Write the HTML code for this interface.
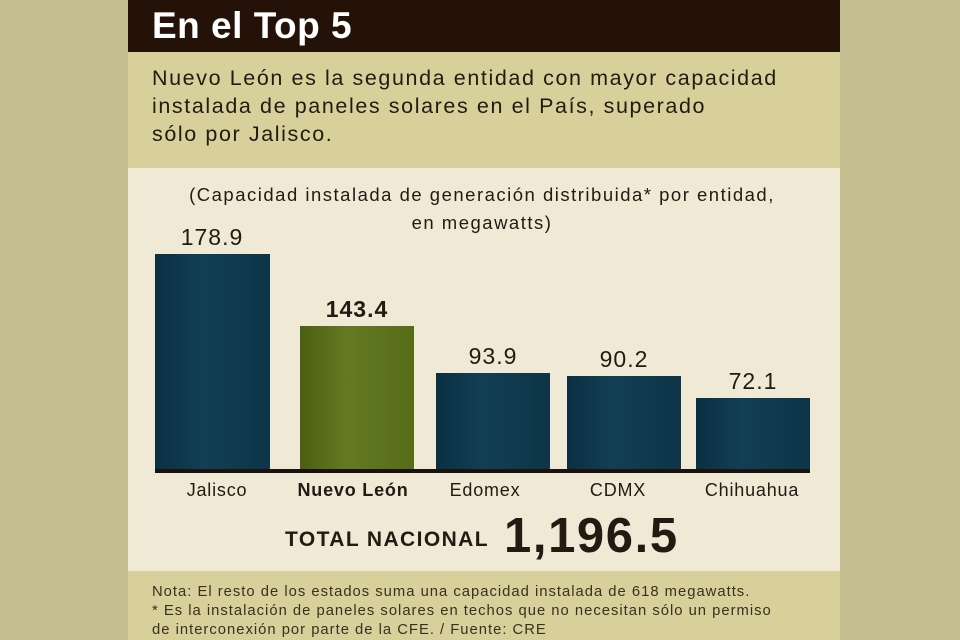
<!DOCTYPE html>
<html><head><meta charset="utf-8"><style>
*{margin:0;padding:0;box-sizing:border-box}
body{width:960px;height:640px;background:#c5be90;font-family:"Liberation Sans",sans-serif;position:relative;overflow:hidden;color:#231a12}
.p{position:absolute;left:128px;width:712px}
.t{position:absolute;white-space:nowrap}
.bar{position:absolute;background:linear-gradient(90deg,#0a2f42,#123f55 40%,#0d3447);}
.nl{background:linear-gradient(90deg,#4a5e12,#637a22 40%,#566c18)}
.lab{position:absolute;top:480px;font-size:18px;text-align:center;width:160px;letter-spacing:0.8px}
.val{position:absolute;font-size:23px;text-align:center;width:140px;letter-spacing:1px}
</style></head><body>
<div class="p" style="top:0;height:52px;background:#241208"></div>
<div class="p" style="top:52px;height:116px;background:#d7d09b"></div>
<div class="p" style="top:168px;height:403px;background:#efe9d5"></div>
<div class="p" style="top:571px;height:69px;background:#d7d09b"></div>
<div class="t" style="left:152px;top:5px;font-size:37px;font-weight:bold;color:#fff;letter-spacing:0.5px">En el Top 5</div>
<div class="t" style="left:152px;top:64px;font-size:21.5px;line-height:28px;letter-spacing:1.6px">Nuevo León es la segunda entidad con mayor capacidad<br>instalada de paneles solares en el País, superado<br>sólo por Jalisco.</div>
<div class="t" style="left:0;width:960px;top:181px;font-size:18.5px;line-height:28px;text-align:center;padding-left:4px;letter-spacing:1.5px">(Capacidad instalada de generación distribuida* por entidad,<br>en megawatts)</div>
<div class="bar" style="left:155px;top:254px;width:115px;height:216px"></div>
<div class="bar nl" style="left:300px;top:326px;width:114px;height:144px"></div>
<div class="bar" style="left:436px;top:373px;width:114px;height:97px"></div>
<div class="bar" style="left:567px;top:376px;width:114px;height:94px"></div>
<div class="bar" style="left:696px;top:398px;width:114px;height:72px"></div>
<div style="position:absolute;left:155px;top:469px;width:655px;height:4px;background:#1a120c"></div>
<div class="val" style="left:142px;top:224px">178.9</div>
<div class="val" style="left:287px;top:296px;font-weight:bold">143.4</div>
<div class="val" style="left:423px;top:343px">93.9</div>
<div class="val" style="left:554px;top:346px">90.2</div>
<div class="val" style="left:683px;top:368px">72.1</div>
<div class="lab" style="left:137px">Jalisco</div>
<div class="lab" style="left:273px;font-weight:bold">Nuevo León</div>
<div class="lab" style="left:405px">Edomex</div>
<div class="lab" style="left:538px">CDMX</div>
<div class="lab" style="left:672px">Chihuahua</div>
<div class="t" style="left:285px;top:528px;font-size:21px;font-weight:bold;letter-spacing:1.4px">TOTAL NACIONAL</div>
<div class="t" style="left:504px;top:508px;font-size:49px;font-weight:bold;letter-spacing:1.6px">1,196.5</div>
<div class="t" style="left:152px;top:583px;font-size:14.8px;line-height:19px;color:#3a3020;letter-spacing:1.0px">Nota: El resto de los estados suma una capacidad instalada de 618 megawatts.<br>* Es la instalación de paneles solares en techos que no necesitan sólo un permiso<br>de interconexión por parte de la CFE. / Fuente: CRE</div>
</body></html>
